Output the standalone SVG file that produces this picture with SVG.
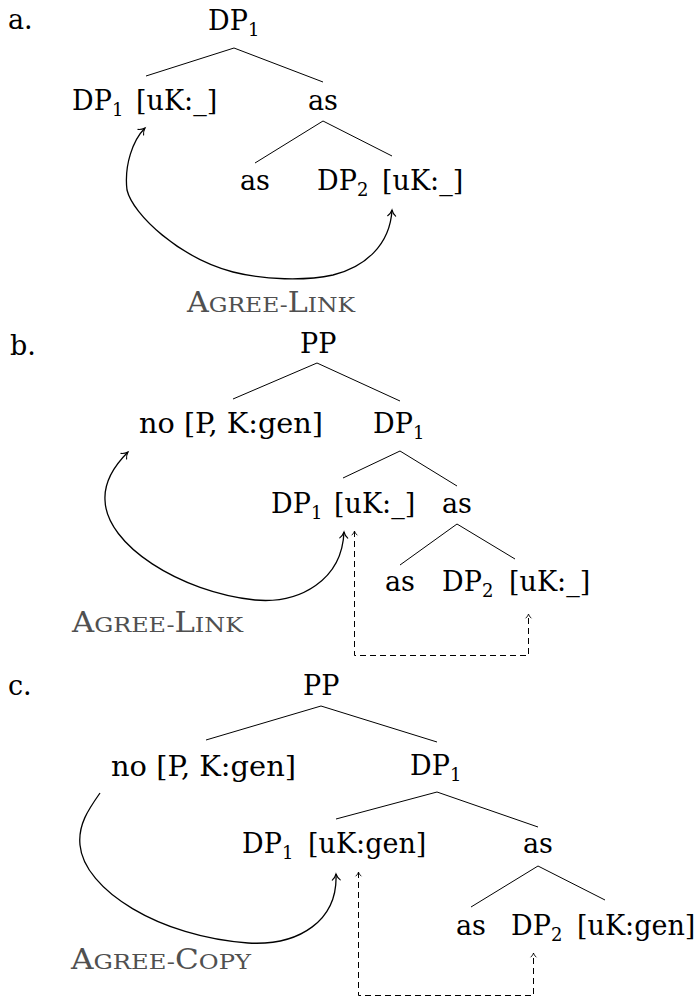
<svg xmlns="http://www.w3.org/2000/svg" width="697" height="997" viewBox="0 0 697 997">
<style>
text{font-family:"DejaVu Serif","Liberation Serif",serif;font-size:27px;fill:#000}
.sub{font-size:18px}
.lbl{fill:#505050;font-size:27px}
.sc{font-size:21px}
.tree{stroke:#000;stroke-width:1;fill:none}
.arc{stroke:#000;stroke-width:1.3;fill:none}
.dash{stroke:#000;stroke-width:1;fill:none;stroke-dasharray:6 4}
</style>
<defs>
<marker id="arr" viewBox="-8 -5 9 10" refX="0" refY="0" markerWidth="9" markerHeight="10" markerUnits="userSpaceOnUse" orient="auto-start-reverse" overflow="visible">
<path d="M-6,-4 C-4,-1.6 -1.6,-0.5 0,0 C-1.6,0.5 -4,1.6 -6,4" fill="none" stroke="#000" stroke-width="1.1" stroke-linecap="round"/>
</marker>
<marker id="darr" viewBox="-6 -4 7 8" refX="0" refY="0" markerWidth="7" markerHeight="8" markerUnits="userSpaceOnUse" orient="auto-start-reverse" overflow="visible">
<path d="M-4,-2.6 C-2.6,-1 -1,-0.3 0,0 C-1,0.3 -2.6,1 -4,2.6" fill="none" stroke="#000" stroke-width="0.9" stroke-linecap="round"/>
</marker>
</defs>

<!-- Panel a -->
<g id="a-label"><text x="8" y="29">a.</text></g>
<g id="a-dp1-root"><text x="208" y="30">DP<tspan class="sub" x="248" dy="6">1</tspan></text></g>
<g id="a-dp1"><text x="72" y="110">DP<tspan class="sub" x="112" dy="6">1</tspan><tspan x="136" dy="-6">[uK:_]</tspan></text></g>
<g id="a-as1"><text x="308" y="110">as</text></g>
<g id="a-as2"><text x="240" y="190">as</text></g>
<g id="a-dp2"><text x="317" y="190">DP<tspan class="sub" x="357" dy="6">2</tspan><tspan x="382" dy="-6">[uK:_]</tspan></text></g>
<g id="a-agree"><text class="lbl" x="187" y="312" textLength="168" lengthAdjust="spacingAndGlyphs">A<tspan class="sc">GREE-</tspan>L<tspan class="sc">INK</tspan></text></g>

<!-- Panel b -->
<g id="b-label"><text x="10" y="355">b.</text></g>
<g id="b-pp"><text x="300" y="353">PP</text></g>
<g id="b-no"><text x="139" y="433" textLength="184" lengthAdjust="spacingAndGlyphs">no [P, K:gen]</text></g>
<g id="b-dp1-top"><text x="373" y="433">DP<tspan class="sub" x="413" dy="6">1</tspan></text></g>
<g id="b-dp1"><text x="271" y="513">DP<tspan class="sub" x="311" dy="6">1</tspan><tspan x="334" dy="-6">[uK:_]</tspan></text></g>
<g id="b-as1"><text x="442" y="513">as</text></g>
<g id="b-as2"><text x="385" y="591">as</text></g>
<g id="b-dp2"><text x="442" y="591">DP<tspan class="sub" x="482" dy="6">2</tspan><tspan x="509" dy="-6">[uK:_]</tspan></text></g>
<g id="b-agree"><text class="lbl" x="72" y="632" textLength="171" lengthAdjust="spacingAndGlyphs">A<tspan class="sc">GREE-</tspan>L<tspan class="sc">INK</tspan></text></g>

<!-- Panel c -->
<g id="c-label"><text x="8" y="695">c.</text></g>
<g id="c-pp"><text x="303" y="695">PP</text></g>
<g id="c-no"><text x="111" y="776" textLength="185" lengthAdjust="spacingAndGlyphs">no [P, K:gen]</text></g>
<g id="c-dp1-top"><text x="410" y="775">DP<tspan class="sub" x="450" dy="6">1</tspan></text></g>
<g id="c-dp1"><text x="242" y="853">DP<tspan class="sub" x="282" dy="6">1</tspan><tspan x="308" dy="-6">[uK:gen]</tspan></text></g>
<g id="c-as1"><text x="523" y="853">as</text></g>
<g id="c-as2"><text x="456" y="935">as</text></g>
<g id="c-dp2"><text x="511" y="935">DP<tspan class="sub" x="551" dy="6">2</tspan><tspan x="577" dy="-6">[uK:gen]</tspan></text></g>
<g id="c-agree"><text class="lbl" x="71" y="969" textLength="180" lengthAdjust="spacingAndGlyphs">A<tspan class="sc">GREE-</tspan>C<tspan class="sc">OPY</tspan></text></g>

<g id="connectors">
<!-- a -->
<path class="tree" d="M146,76 L234,48 L323,82"/>
<path class="tree" d="M255,163 L323,121 L392,156"/>
<path class="arc" marker-start="url(#arr)" marker-end="url(#arr)" d="M145,128 C133,140 124,165 127,190 C133,215 180,258 233,272 C265,280 305,281 333,275 C365,267 390,245 392,210"/>
<!-- b -->
<path class="tree" d="M233,399 L317,363 L400,401"/>
<path class="tree" d="M343,478 L400,451 L457,486"/>
<path class="tree" d="M400,565 L457,524 L515,559"/>
<path class="arc" marker-start="url(#arr)" marker-end="url(#arr)" d="M128,452 C115,465 104,482 105,500 C106,545 180,592 255,600 C300,604 342,580 344,532"/>
<path class="dash" marker-start="url(#darr)" marker-end="url(#darr)" d="M354.5,531 V655.5 H528.5 V614"/>
<!-- c -->
<path class="tree" d="M206,740 L321,706 L437,742"/>
<path class="tree" d="M336,819 L437,792 L538,827"/>
<path class="tree" d="M471,907 L538,866 L605,900"/>
<path class="arc" marker-end="url(#arr)" d="M100,793 C88,810 78,825 80,845 C84,890 160,937 248,943 C300,946 338,920 336,874"/>
<path class="dash" marker-start="url(#darr)" marker-end="url(#darr)" d="M358.5,872 V995.5 H533.5 V953"/>
</g>
</svg>
